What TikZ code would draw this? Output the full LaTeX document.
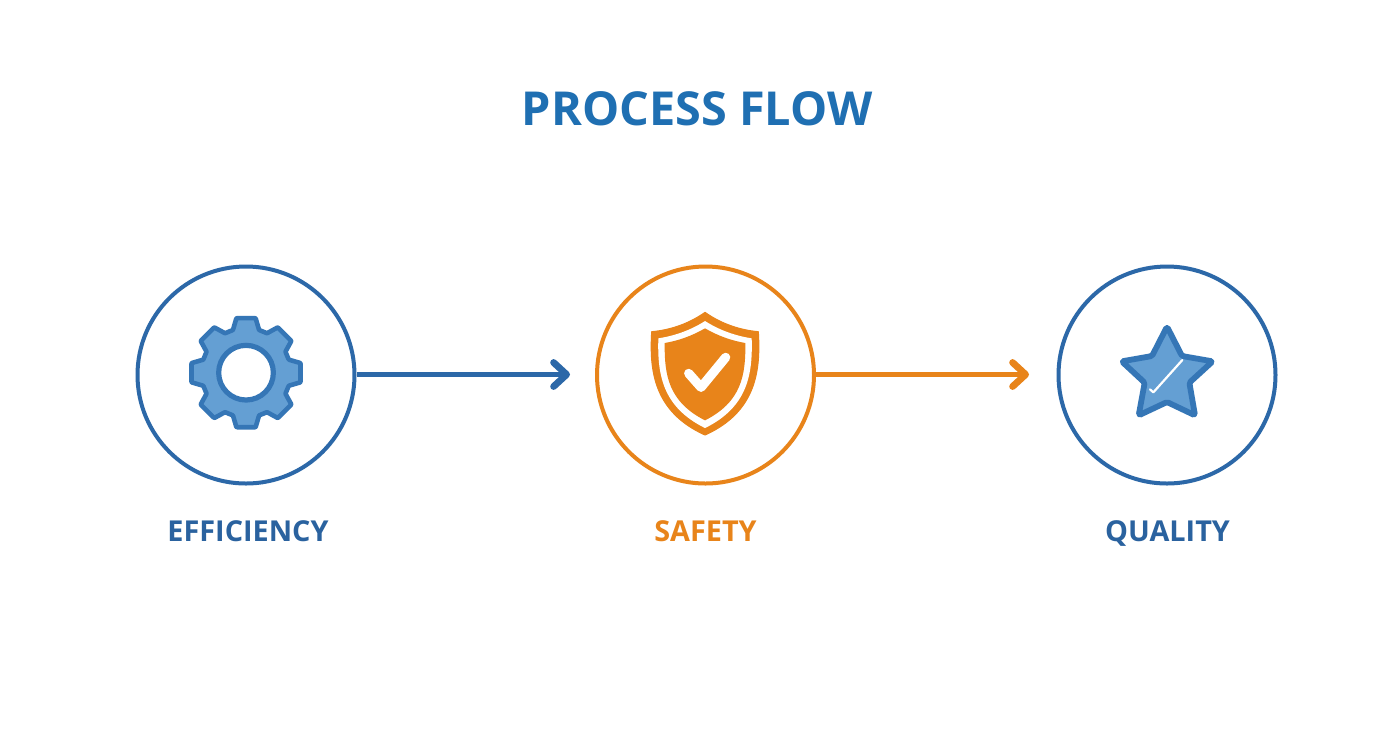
\documentclass[tikz,border=0pt]{standalone}
\usepackage{fontspec}
\setmainfont{Open Sans}
\usetikzlibrary{arrows.meta}
\definecolor{titleblue}{HTML}{1F6FB2}
\definecolor{ringblue}{HTML}{2C68A8}
\definecolor{labelblue}{HTML}{2A629F}
\definecolor{brandorange}{HTML}{E8841A}
\definecolor{iconline}{HTML}{3576B6}
\definecolor{iconfill}{HTML}{649FD3}
\tikzset{
  ring/.style={circle,draw=#1,line width=2pt,minimum size=108.5pt,inner sep=0pt,fill=white},
  steplabel/.style={font=\fontsize{14.4pt}{16pt}\selectfont\bfseries,text=#1,anchor=base,inner sep=0pt},
  flow/.style={draw=#1,line width=2.2pt,-{Straight Barb[length=6.5pt,width=12pt,line width=3.4pt,round]}},
  iconshape/.style={draw=iconline,fill=iconfill,line join=round},
  zoomA/.style={shift={(170,300)},x=0.1667pt,y=-0.1667pt},
  zoomB/.style={shift={(630,300)},x=0.1667pt,y=-0.1667pt},
  zoomC/.style={shift={(1095,300)},x=0.1667pt,y=-0.1667pt},
}
\begin{document}
\begin{tikzpicture}[x=0.5pt,y=-0.5pt]
\useasboundingbox[fill=white] (0,0) rectangle (1392,752);
\node[font=\fontsize{23.4pt}{26pt}\selectfont\bfseries,text=titleblue,inner sep=0pt,anchor=base] (title) at (697,125) {PROCESS FLOW};
\node[ring=ringblue] (eff) at (246,375) {};
\node[ring=brandorange] (saf) at (705.5,375) {};
\node[ring=ringblue] (qua) at (1167,375) {};
\coordinate (end1) at (570,374.5);
\coordinate (end2) at (1029,374.5);
\draw[flow=ringblue] (eff.east |- end1) -- (end1);
\draw[flow=brandorange] (saf.east |- end2) -- (end2);
\node[steplabel=labelblue] (l1) at (248,541) {EFFICIENCY};
\node[steplabel=brandorange] (l2) at (705.5,541) {SAFETY};
\node[steplabel=labelblue] (l3) at (1167.5,541) {QUALITY};
% gear
\begin{scope}[zoomA]
\begin{scope}[shift={(228,218)}]
\path[iconshape,line width=2.3pt,rounded corners=.3pt]
  (-17:134) foreach \a in {0,45,...,315} { -- (\a-17:134) -- (\a-10:166) -- (\a+10:166) -- (\a+17:134)} -- cycle;
\path[draw=iconline,fill=white,line width=2.6pt] (0,0) circle (82);
\end{scope}
\end{scope}
% shield
\begin{scope}[zoomB]
\path[fill=brandorange,draw=brandorange,line width=.5pt,line join=round]
  (225,37) .. controls (175,72) and (120,90) .. (65,95) .. controls (58,210) and (70,335) .. (225,405)
  .. controls (380,335) and (392,210) .. (385,95) .. controls (330,90) and (275,72) .. (225,37) -- cycle;
\path[fill=white]
  (225,63) .. controls (180,92) and (130,108) .. (85,115) .. controls (82,220) and (95,320) .. (225,384)
  .. controls (355,320) and (368,220) .. (365,115) .. controls (320,108) and (270,92) .. (225,63) -- cycle;
\path[fill=brandorange]
  (225,85) .. controls (185,108) and (145,122) .. (104,129) .. controls (103,225) and (115,305) .. (225,361)
  .. controls (335,305) and (347,225) .. (346,129) .. controls (305,122) and (265,108) .. (225,85) -- cycle;
\draw[white,line width=4.6pt,line cap=round,line join=round] (176,220) -- (213,262) -- (287,172);
\end{scope}
% star
\begin{scope}[zoomC]
\path[iconshape,line width=2.9pt,rounded corners=.8pt]
  (216,80) -- (261,168) -- (353,184) -- (283,248) -- (300,346) -- (216,306) -- (131,346) -- (149,248) -- (80,184) -- (171,168) -- cycle;
\draw[white,line width=1.1pt,line cap=round,line join=round] (165,268) -- (175,277) -- (262,180);
\end{scope}
\end{tikzpicture}
\end{document}
